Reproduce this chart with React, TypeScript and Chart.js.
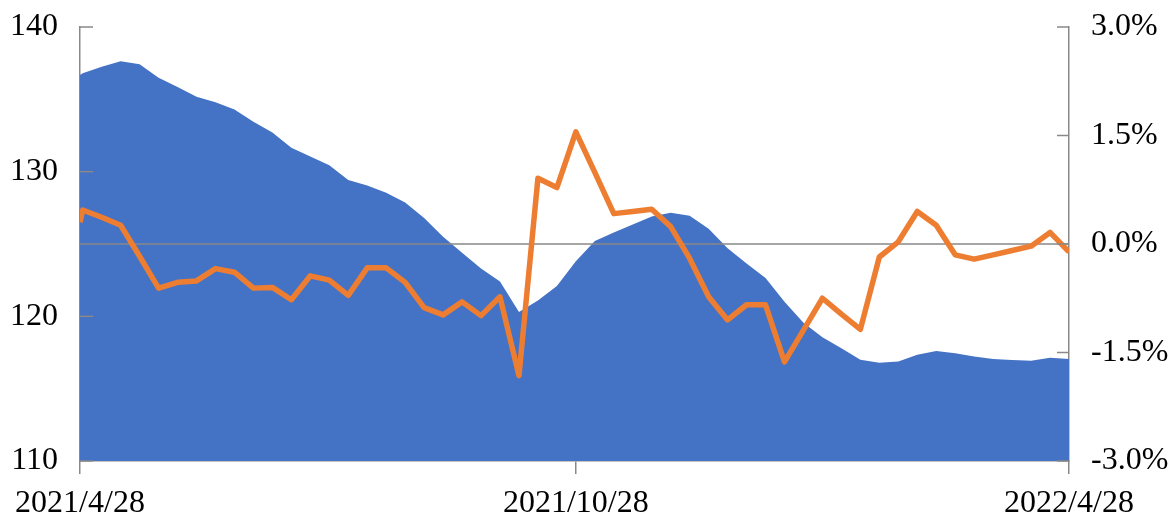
import React, { useEffect, useRef } from "react";
import { Chart, registerables } from "chart.js";

Chart.register(...registerables);

// Dates of observations (first point is the start date, then weekly Thursdays)
const dates: string[] = [
  "2021/4/28", "2021/4/29", "2021/5/6", "2021/5/13", "2021/5/20", "2021/5/27",
  "2021/6/3", "2021/6/10", "2021/6/17", "2021/6/24", "2021/7/1", "2021/7/8",
  "2021/7/15", "2021/7/22", "2021/7/29", "2021/8/5", "2021/8/12", "2021/8/19",
  "2021/8/26", "2021/9/2", "2021/9/9", "2021/9/16", "2021/9/23", "2021/9/30",
  "2021/10/7", "2021/10/14", "2021/10/21", "2021/10/28", "2021/11/4", "2021/11/11",
  "2021/11/18", "2021/11/25", "2021/12/2", "2021/12/9", "2021/12/16", "2021/12/23",
  "2021/12/30", "2022/1/6", "2022/1/13", "2022/1/20", "2022/1/27", "2022/2/3",
  "2022/2/10", "2022/2/17", "2022/2/24", "2022/3/3", "2022/3/10", "2022/3/17",
  "2022/3/24", "2022/3/31", "2022/4/7", "2022/4/14", "2022/4/21", "2022/4/28",
];

// Left axis series (area)
const levelValues: number[] = [
  136.68, 136.8, 137.26, 137.63, 137.42, 136.5, 135.85, 135.18, 134.8, 134.3,
  133.45, 132.7, 131.65, 131.04, 130.44, 129.42, 129.05, 128.55, 127.87, 126.8,
  125.5, 124.4, 123.3, 122.4, 120.3, 121.1, 122.1, 123.8, 125.2, 125.8,
  126.35, 126.9, 127.16, 126.95, 126.05, 124.7, 123.65, 122.65, 121.0, 119.55,
  118.55, 117.8, 117.0, 116.8, 116.87, 117.35, 117.6, 117.45, 117.22, 117.05,
  116.98, 116.93, 117.14, 117.05,
];

// Right axis series (%)
const changeValues: number[] = [
  0.3, 0.47, 0.37, 0.26, -0.17, -0.61, -0.53, -0.51, -0.34, -0.39,
  -0.61, -0.6, -0.77, -0.44, -0.5, -0.71, -0.33, -0.33, -0.53, -0.88,
  -0.98, -0.8, -0.99, -0.73, -1.82, 0.91, 0.78, 1.55, 0.99, 0.42,
  0.45, 0.48, 0.24, -0.2, -0.73, -1.05, -0.84, -0.84, -1.63, -1.19,
  -0.75, -0.97, -1.18, -0.18, 0.03, 0.45, 0.26, -0.15, -0.21, -0.15,
  -0.09, -0.03, 0.16, -0.11,
];

const xTickLabels: string[] = ["2021/4/28", "2021/10/28", "2022/4/28"];
const leftTicks = { min: 110, max: 140, step: 10 };
const rightTicks = { min: -3, max: 3, step: 1.5 };

function dayIndex(s: string): number {
  const [y, m, d] = s.split("/").map(Number);
  const base = Date.UTC(2021, 3, 28);
  return Math.round((Date.UTC(y, m - 1, d) - base) / 86400000);
}

const GRAY = "#898989";
const FONT = { family: "'Liberation Serif', 'Times New Roman', serif", size: 32 };

export default function App() {
  const ref = useRef<HTMLCanvasElement | null>(null);

  useEffect(() => {
    if (!ref.current) return;
    const xs = dates.map(dayIndex);
    const tickDays = xTickLabels.map(dayIndex);

    const overlay = {
      id: "overlay",
      beforeDatasetDraw(chart: any, args: any) {
        if (args.index !== 1) return;
        const { ctx, chartArea } = chart;
        const y = chart.scales.y1.getPixelForValue(0);
        ctx.save();
        ctx.strokeStyle = GRAY;
        ctx.lineWidth = 1.5;
        ctx.beginPath();
        ctx.moveTo(chartArea.left, y);
        ctx.lineTo(chartArea.right, y);
        ctx.stroke();
        ctx.restore();
      },
      afterDatasetsDraw(chart: any) {
        const { ctx, chartArea } = chart;
        ctx.save();
        ctx.strokeStyle = GRAY;
        ctx.lineWidth = 1.5;
        chart.scales.y.ticks.forEach((t: any) => {
          const p = chart.scales.y.getPixelForValue(t.value);
          ctx.beginPath();
          ctx.moveTo(chartArea.left, p);
          ctx.lineTo(chartArea.left + 13, p);
          ctx.stroke();
        });
        chart.scales.y1.ticks.forEach((t: any) => {
          const p = chart.scales.y1.getPixelForValue(t.value);
          ctx.beginPath();
          ctx.moveTo(chartArea.right - 12, p);
          ctx.lineTo(chartArea.right, p);
          ctx.stroke();
        });
        ctx.restore();
      },
    };

    const chart = new Chart(ref.current, {
      type: "line",
      data: {
        datasets: [
          {
            label: "level",
            data: xs.map((x, i) => ({ x, y: levelValues[i] })),
            yAxisID: "y",
            backgroundColor: "#4472C4",
            borderWidth: 0,
            borderColor: "#4472C4",
            fill: "start",
            pointRadius: 0,
            tension: 0,
            order: 2,
          },
          {
            label: "change",
            data: xs.map((x, i) => ({ x, y: changeValues[i] })),
            yAxisID: "y1",
            borderColor: "#ED7D31",
            borderWidth: 5.5,
            borderJoinStyle: "round",
            borderCapStyle: "butt",
            fill: false,
            pointRadius: 0,
            tension: 0,
            order: 1,
          },
        ],
      } as any,
      options: {
        animation: false,
        responsive: false,
        layout: { padding: { top: 27, left: 0, right: 0, bottom: 0 } },
        plugins: { legend: { display: false }, tooltip: { enabled: false } },
        scales: {
          x: {
            type: "linear",
            min: tickDays[0],
            max: tickDays[tickDays.length - 1],
            afterBuildTicks: (s: any) => {
              s.ticks = tickDays.map((v) => ({ value: v }));
            },
            afterFit: (s: any) => {
              s.height = 57;
              s.paddingLeft = 0;
              s.paddingRight = 0;
            },
            ticks: {
              autoSkip: false,
              maxRotation: 0,
              padding: 10,
              color: "#000",
              font: FONT,
              callback: (v: any) => {
                const i = tickDays.indexOf(Number(v));
                return i >= 0 ? xTickLabels[i] : "";
              },
            },
            grid: { drawOnChartArea: false, drawTicks: true, tickLength: 13, color: GRAY, lineWidth: 1.5 },
            border: { display: true, color: GRAY, width: 1.5 },
          },
          y: {
            position: "left",
            min: leftTicks.min,
            max: leftTicks.max,
            afterFit: (s: any) => {
              s.width = 80;
              s.paddingTop = 0;
              s.paddingBottom = 0;
            },
            ticks: { stepSize: leftTicks.step, padding: 22, color: "#000", font: FONT },
            grid: { drawOnChartArea: false, drawTicks: false },
            border: { display: true, color: GRAY, width: 1.5 },
          },
          y1: {
            position: "right",
            min: rightTicks.min,
            max: rightTicks.max,
            afterFit: (s: any) => {
              s.width = 104;
              s.paddingTop = 0;
              s.paddingBottom = 0;
            },
            ticks: {
              stepSize: rightTicks.step,
              padding: 22,
              color: "#000",
              font: FONT,
              callback: (v: any) => Number(v).toFixed(1) + "%",
            },
            grid: { drawOnChartArea: false, drawTicks: false },
            border: { display: true, color: GRAY, width: 1.5 },
          },
        },
      } as any,
      plugins: [overlay],
    });
    return () => chart.destroy();
  }, []);

  return (
    <div style={{ position: "fixed", left: 0, top: 0, width: 1173, height: 518, background: "#fff" }}>
      <canvas ref={ref} width={1173} height={518} style={{ display: "block", width: 1173, height: 518 }} />
    </div>
  );
}
